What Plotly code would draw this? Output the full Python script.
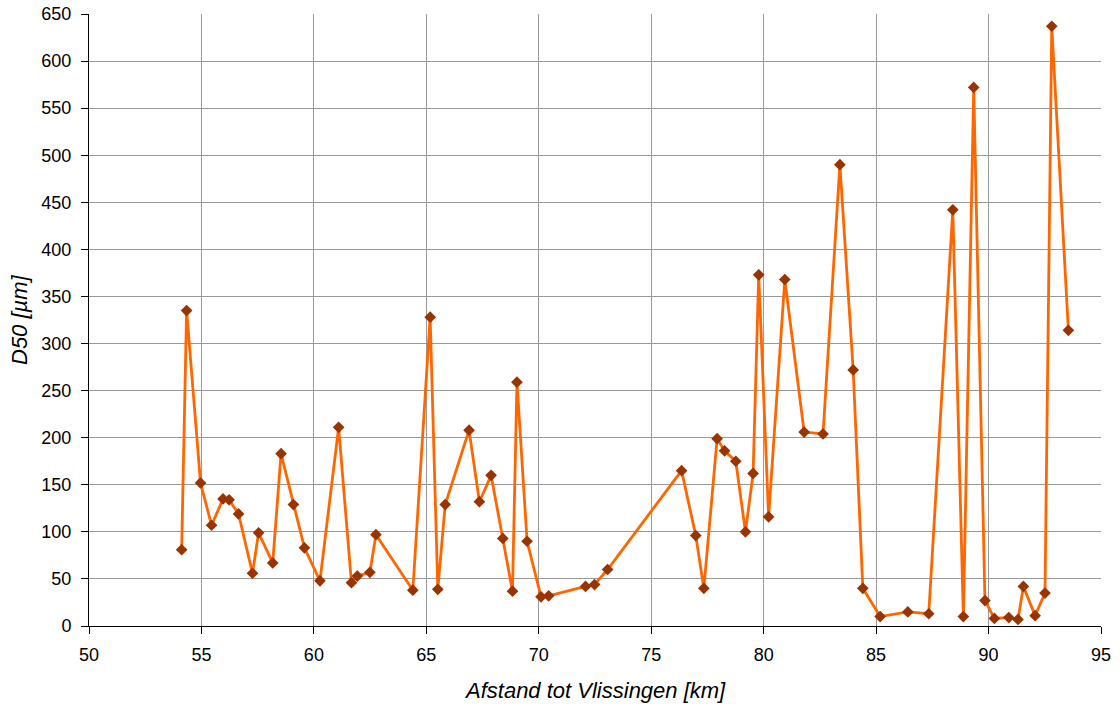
import plotly.graph_objects as go

afstand_km = [54.12, 54.34, 54.96, 55.45, 55.96, 56.23, 56.65, 57.27, 57.54, 58.17,
              58.54, 59.09, 59.58, 60.27, 61.10, 61.67, 61.93, 62.49, 62.76, 64.40,
              65.17, 65.51, 65.84, 66.90, 67.36, 67.88, 68.40, 68.83, 69.03, 69.48,
              70.10, 70.44, 72.08, 72.48, 73.06, 76.35, 76.98, 77.34, 77.93, 78.26,
              78.76, 79.19, 79.53, 79.78, 80.22, 80.94, 81.80, 82.64, 83.39, 83.98,
              84.41, 85.18, 86.41, 87.34, 88.41, 88.88, 89.34, 89.84, 90.26, 90.90,
              91.31, 91.55, 92.07, 92.51, 92.81, 93.55]
d50_um = [81, 335, 152, 107, 135, 134, 119, 56, 99, 67,
          183, 129, 83, 48, 211, 46, 53, 57, 97, 38,
          328, 39, 129, 208, 132, 160, 93, 37, 259, 90,
          31, 32, 42, 44, 60, 165, 96, 40, 199, 186,
          175, 100, 162, 373, 116, 368, 206, 204, 490, 272,
          40, 10, 15, 13, 442, 10, 572, 27, 8, 9,
          7, 42, 11, 35, 637, 314]

x_ticks = [50, 55, 60, 65, 70, 75, 80, 85, 90, 95]
y_ticks = list(range(0, 651, 50))
x_title = "Afstand tot Vlissingen [km]"
y_title = "D50 [µm]"

fig = go.Figure()
fig.add_trace(go.Scatter(
    x=afstand_km, y=d50_um, mode="lines+markers",
    line=dict(color="#FF6600", width=2.8),
    marker=dict(symbol="diamond", size=9, color="#993300"),
    showlegend=False,
))

font_family = "Liberation Sans, Arial, sans-serif"
L, R, T, B = 89, 19, 14, 80
W, H = 1120, 706
pw, ph = W - L - R, H - T - B

fig.update_layout(
    width=W, height=H,
    margin=dict(l=L, r=R, t=T, b=B, autoexpand=False),
    paper_bgcolor="white", plot_bgcolor="white",
    font=dict(family=font_family, size=18, color="black"),
    xaxis=dict(
        range=[50, 95], tickvals=x_ticks, showgrid=True, gridcolor="#999999", gridwidth=1,
        showline=True, linecolor="black", linewidth=1, ticks="outside", ticklen=7,
        tickcolor="black", zeroline=False, automargin=False, ticklabelstandoff=5,
    ),
    yaxis=dict(
        range=[0, 650], tickvals=y_ticks, showgrid=True, gridcolor="#999999", gridwidth=1,
        showline=True, linecolor="black", linewidth=1, ticks="outside", ticklen=7,
        tickcolor="black", zeroline=False, automargin=False, ticklabelstandoff=6,
    ),
    annotations=[
        dict(text="<i>" + x_title + "</i>", xref="paper", yref="paper",
             x=0.5, y=(T + ph - 690) / ph, xanchor="center", yanchor="middle",
             showarrow=False, font=dict(size=22)),
        dict(text="<i>" + y_title + "</i>", xref="paper", yref="paper",
             x=(19 - L) / pw, y=0.5, xanchor="center", yanchor="middle",
             textangle=-90, showarrow=False, font=dict(size=22)),
    ],
)
fig.write_html("out.html")
